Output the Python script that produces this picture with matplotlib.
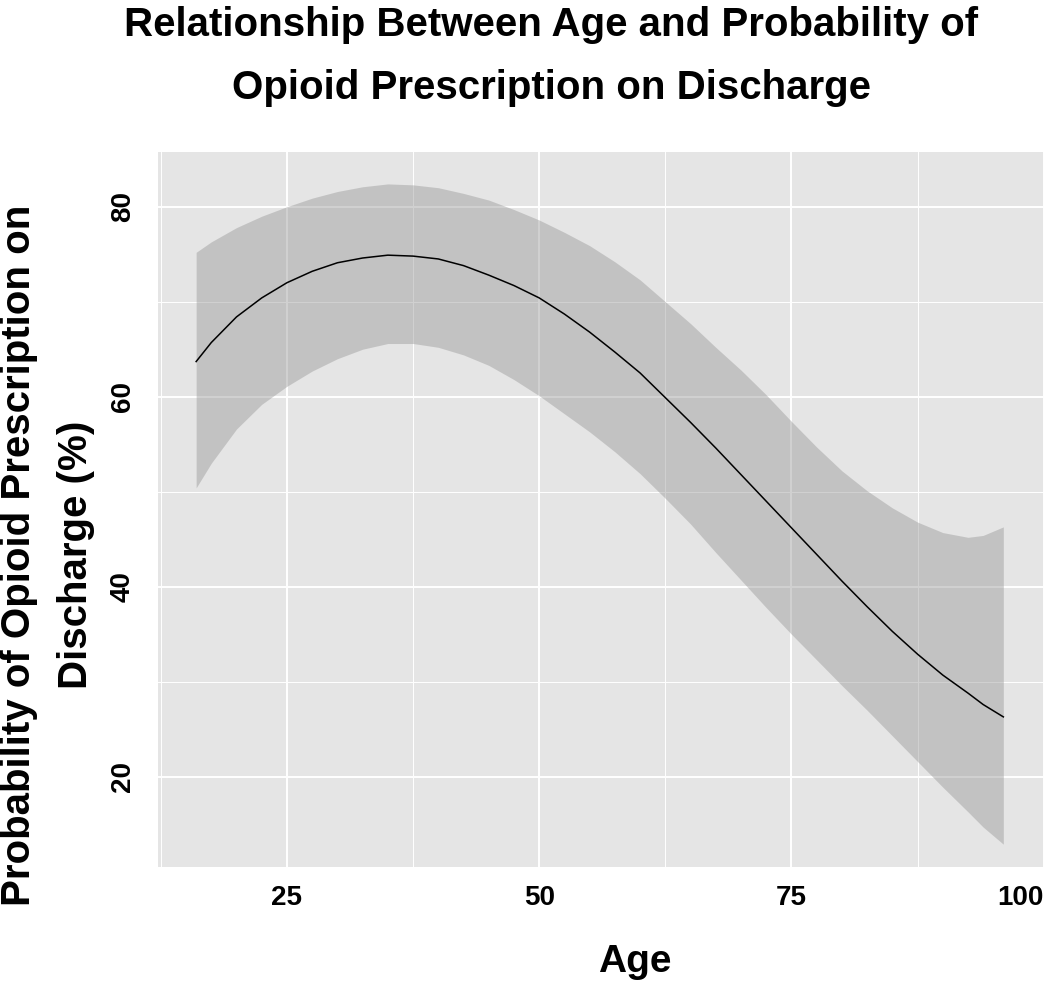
import matplotlib
matplotlib.use("Agg")
import matplotlib.pyplot as plt

plt.rcParams['font.family'] = ['Liberation Sans', 'DejaVu Sans']

# ---- data ----
age = [16, 17.5, 20, 22.5, 25, 27.5, 30, 32.5, 35, 37.5, 40, 42.5, 45, 47.5,
       50, 52.5, 55, 57.5, 60, 62.5, 65, 67.5, 70, 72.5, 75, 77.5, 80, 82.5,
       85, 87.5, 90, 92.5, 94, 96]
fit = [63.7, 65.7, 68.4, 70.4, 72.0, 73.2, 74.1, 74.6, 74.9, 74.8, 74.5, 73.8,
       72.8, 71.7, 70.4, 68.7, 66.8, 64.7, 62.5, 59.9, 57.3, 54.6, 51.8, 49.0,
       46.2, 43.4, 40.6, 37.9, 35.3, 32.9, 30.7, 28.8, 27.6, 26.3]
upper = [75.2, 76.3, 77.8, 79.0, 80.0, 80.9, 81.6, 82.1, 82.4, 82.3, 82.0, 81.4,
         80.7, 79.7, 78.6, 77.3, 75.9, 74.2, 72.3, 70.0, 67.7, 65.2, 62.8, 60.2,
         57.4, 54.7, 52.2, 50.1, 48.3, 46.8, 45.7, 45.2, 45.4, 46.3]
lower = [50.4, 53.0, 56.6, 59.2, 61.1, 62.7, 64.0, 65.0, 65.6, 65.6, 65.2, 64.4,
         63.3, 61.8, 60.1, 58.2, 56.3, 54.2, 51.9, 49.3, 46.6, 43.6, 40.7, 37.8,
         35.0, 32.3, 29.6, 27.0, 24.3, 21.6, 18.9, 16.3, 14.7, 12.9]

x_major = [25, 50, 75, 100]
x_minor = [12.5, 37.5, 62.5, 87.5]
y_major = [20, 40, 60, 80]
y_minor = [30, 50, 70]

title_lines = ["Relationship Between Age and Probability of",
               "Opioid Prescription on Discharge"]
ylabel_lines = ["Probability of Opioid Prescription on", "Discharge (%)"]
xlabel = "Age"

W, H = 1050, 982
fig = plt.figure(figsize=(W / 100, H / 100), dpi=100)
fig.patch.set_facecolor('white')

L, R, T, B = 158, 1044, 151.7, 866.7
ax = fig.add_axes([L / W, 1 - B / H, (R - L) / W, (B - T) / H])
ax.set_facecolor('#E5E5E5')
for s in ax.spines.values():
    s.set_visible(False)

ax.fill_between(age, lower, upper, color='#999999', alpha=0.45, linewidth=0, zorder=2)
ax.plot(age, fit, color='black', linewidth=1.1, zorder=3)

ax.set_xlim(12.22, 100.03)
ax.set_ylim(10.53, 85.79)
ax.set_xticks(x_major)
ax.set_xticks(x_minor, minor=True)
ax.set_yticks(y_major)
ax.set_yticks(y_minor, minor=True)
ax.set_xticklabels([str(v) for v in x_major])
ax.set_yticklabels([str(v) for v in y_major])
ax.grid(which='major', color='white', linewidth=1.4, zorder=1)
ax.grid(which='minor', color='white', linewidth=0.7, zorder=1)
ax.set_axisbelow(True)

ax.tick_params(which='both', length=0)
ax.tick_params(axis='x', labelsize=20, pad=13)
ax.tick_params(axis='y', labelsize=20, pad=16)
for lbl in ax.get_xticklabels():
    lbl.set_fontweight('bold')
    lbl.set_color('black')
xl = ax.get_xticklabels()
xl[-1].set_horizontalalignment('right')
for lbl in ax.get_yticklabels():
    lbl.set_fontweight('bold')
    lbl.set_color('black')
    lbl.set_rotation(90)
    lbl.set_verticalalignment('center')

# title lines
fig.text(551 / W, 1 - 36 / H, title_lines[0], ha='center', va='baseline',
         fontsize=29, fontweight='bold')
fig.text(551 / W, 1 - 99 / H, title_lines[1], ha='center', va='baseline',
         fontsize=29, fontweight='bold')

# y label lines
fig.text(30 / W, 1 - 555 / H, ylabel_lines[0], rotation=90, rotation_mode='anchor',
         ha='center', va='baseline', fontsize=29, fontweight='bold')
fig.text(86.7 / W, 1 - 555 / H, ylabel_lines[1], rotation=90, rotation_mode='anchor',
         ha='center', va='baseline', fontsize=29, fontweight='bold')

# x label
fig.text(635 / W, 1 - 971.7 / H, xlabel, ha='center', va='baseline',
         fontsize=28, fontweight='bold')

fig.savefig('out.png', dpi=100, facecolor='white')
